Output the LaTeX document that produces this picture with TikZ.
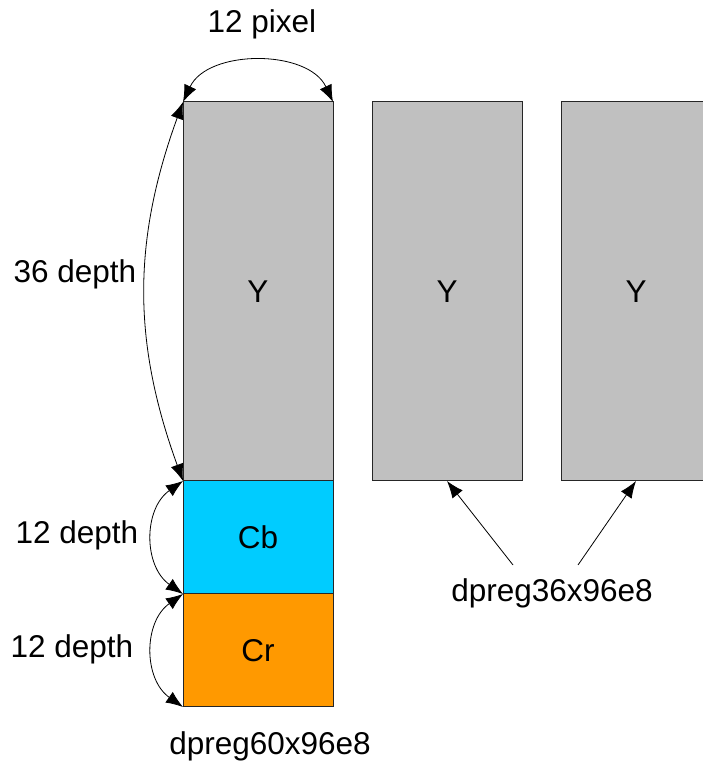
\documentclass[tikz,border=0pt]{standalone}
\usepackage{fontspec}
\setmainfont{Liberation Sans}
\usetikzlibrary{arrows.meta}
\begin{document}
\begin{tikzpicture}[x=1pt,y=1pt,
  box/.style={draw=black!85, line width=1pt, rectangle, inner sep=0pt, outer sep=0pt, minimum width=150pt},
  lbl/.style={font=\fontsize{31.5}{36}\selectfont, inner sep=0pt},
  dim/.style={line width=0.8pt, {Latex[length=17pt,width=13pt]}-{Latex[length=17pt,width=13pt]}},
  ptr/.style={line width=0.8pt, -{Latex[length=17pt,width=13pt]}}]
\useasboundingbox (0,0) rectangle (703,762);
\clip (0,0) rectangle (703,762);
\node[box, fill={rgb,255:red,192;green,192;blue,192}, minimum height=379pt, lbl] (y1) at (258,470.5) {Y};
\node[box, fill={rgb,255:red,0;green,204;blue,255}, minimum height=113pt, lbl] (cb) at (258,224.5) {Cb};
\node[box, fill={rgb,255:red,255;green,153;blue,0}, minimum height=113pt, lbl] (cr) at (258,111.5) {Cr};
\node[box, fill={rgb,255:red,192;green,192;blue,192}, minimum height=379pt, lbl] (y2) at (447,470.5) {Y};
\node[box, fill={rgb,255:red,192;green,192;blue,192}, minimum height=379pt, lbl] (y3) at (636,470.5) {Y};
\node[lbl] (tp) at (262,738) {12 pixel};
\node[lbl] (ld) at (75,488) {36 depth};
\node[lbl] (lcb) at (77,227) {12 depth};
\node[lbl] (lcr) at (72,113) {12 depth};
\node[lbl] (b1) at (270,16) {dpreg60x96e8};
\node[lbl] (b2) at (552,169) {dpreg36x96e8};
\draw[dim] (y1.north west) to[out=65,in=115] (y1.north east);
\draw[dim] (y1.north west) to[out=250,in=110] (y1.south west);
\draw[dim] (cb.north west) to[out=215,in=145,looseness=1.1] (cb.south west);
\draw[dim] (cr.north west) to[out=215,in=145,looseness=1.1] (cr.south west);
\coordinate (s1) at (513,197);
\coordinate (s2) at (578,197);
\draw[ptr] (s1) -- (y2.south);
\draw[ptr] (s2) -- (y3.south);
\end{tikzpicture}
\end{document}
